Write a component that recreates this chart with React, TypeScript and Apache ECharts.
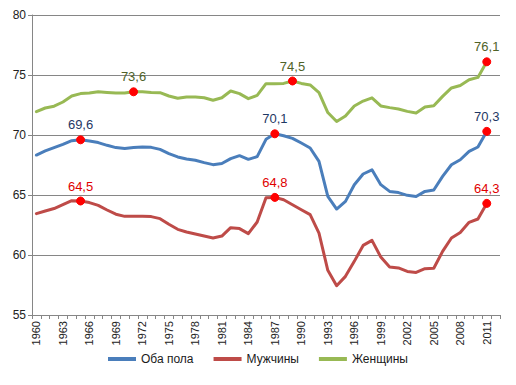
import React, { useEffect, useRef } from "react";
import * as echarts from "echarts";

const years = [
  "1960","1961","1962","1963","1964","1965","1966","1967","1968","1969",
  "1970","1971","1972","1973","1974","1975","1976","1977","1978","1979",
  "1980","1981","1982","1983","1984","1985","1986","1987","1988","1989",
  "1990","1991","1992","1993","1994","1995","1996","1997","1998","1999",
  "2000","2001","2002","2003","2004","2005","2006","2007","2008","2009",
  "2010","2011","2012",
];

const both = [
  68.33, 68.67, 68.95, 69.22, 69.53, 69.6, 69.5, 69.37, 69.14, 68.95,
  68.87, 68.95, 69.0, 68.97, 68.8, 68.45, 68.17, 68.0, 67.89, 67.7,
  67.53, 67.62, 68.03, 68.28, 67.97, 68.2, 69.64, 70.1, 69.94, 69.72,
  69.33, 68.92, 67.8, 64.88, 63.83, 64.47, 65.86, 66.75, 67.1, 65.86,
  65.3, 65.2, 64.97, 64.88, 65.3, 65.42, 66.55, 67.52, 67.94, 68.63,
  69.0, 70.3,
];

const men = [
  63.45, 63.67, 63.87, 64.2, 64.53, 64.5, 64.37, 64.14, 63.75, 63.4,
  63.22, 63.22, 63.22, 63.2, 63.03, 62.56, 62.14, 61.92, 61.75, 61.58,
  61.42, 61.58, 62.28, 62.2, 61.78, 62.75, 64.78, 64.8, 64.6, 64.19,
  63.77, 63.36, 61.83, 58.72, 57.44, 58.22, 59.47, 60.8, 61.22, 59.83,
  59.0, 58.92, 58.63, 58.55, 58.86, 58.9, 60.3, 61.42, 61.88, 62.72,
  63.0, 64.3,
];

const women = [
  71.95, 72.25, 72.4, 72.75, 73.25, 73.45, 73.5, 73.6, 73.55, 73.5,
  73.5, 73.6, 73.6, 73.55, 73.53, 73.25, 73.06, 73.17, 73.17, 73.1,
  72.9, 73.1, 73.67, 73.45, 73.03, 73.3, 74.28, 74.28, 74.3, 74.5,
  74.3, 74.17, 73.53, 71.87, 71.12, 71.58, 72.42, 72.83, 73.1, 72.42,
  72.28, 72.17, 71.97, 71.83, 72.33, 72.44, 73.22, 73.92, 74.13, 74.6,
  74.8, 76.1,
];

const markedBoth = ["1965", "1987", "2011"];
const markedMen = ["1965", "1987", "2011"];
const markedWomen = ["1971", "1989", "2011"];

const yTicks = { min: 55, max: 80, interval: 5 };

function buildData(values: number[], marked: string[], labelColor: string) {
  return values.map((v, i) => {
    if (!marked.includes(years[i])) return v;
    const last = i === values.length - 1;
    return {
      value: v,
      symbol: "circle",
      symbolSize: 8,
      itemStyle: { color: "#FF0000", borderColor: "#FF0000" },
      label: {
        show: true,
        position: "top",
        distance: 4,
        offset: last ? [5, 0] : [0, 0],
        color: labelColor,
        fontSize: 13,
        fontFamily: "Liberation Sans",
        formatter: (p: any) => String(p.value).replace(".", ","),
      },
    };
  });
}

export default function App() {
  const ref = useRef<HTMLDivElement>(null);
  useEffect(() => {
    if (!ref.current) return;
    const chart = echarts.init(ref.current, undefined, { renderer: "svg" });
    const lineSeries = (name: string, values: number[], marked: string[], color: string, labelColor: string) => ({
      name,
      type: "line",
      data: buildData(values, marked, labelColor),
      symbol: "none",
      showSymbol: true,
      showAllSymbol: true,
      smooth: false,
      lineStyle: { color, width: 3, cap: "round", join: "round" },
      itemStyle: { color },
      labelLayout: { hideOverlap: false },
      z: 2,
    });
    chart.setOption({
      animation: false,
      backgroundColor: "#ffffff",
      textStyle: { fontFamily: "Liberation Sans" },
      grid: { left: 32, right: 16, top: 15, bottom: 70, containLabel: false },
      legend: {
        bottom: 15,
        left: "center",
        icon: "rect",
        itemWidth: 28,
        itemHeight: 4,
        itemGap: 20,
        textStyle: { fontSize: 12, color: "#1a1a1a", fontFamily: "Liberation Sans" },
        data: [
          { name: "Оба пола", itemStyle: { color: "#4A7EBB" } },
          { name: "Мужчины", itemStyle: { color: "#BE4B48" } },
          { name: "Женщины", itemStyle: { color: "#98B954" } },
        ],
      },
      xAxis: {
        type: "category",
        data: years,
        boundaryGap: true,
        axisLine: { show: true, lineStyle: { color: "#868686", width: 1 } },
        axisTick: { show: true, interval: 0, length: 4, lineStyle: { color: "#868686" } },
        axisLabel: {
          interval: 2,
          rotate: 90,
          fontSize: 11,
          color: "#222",
          margin: 6,
          fontFamily: "Liberation Sans",
        },
        splitLine: { show: false },
      },
      yAxis: {
        type: "value",
        min: yTicks.min,
        max: yTicks.max,
        interval: yTicks.interval,
        axisLine: { show: true, lineStyle: { color: "#868686", width: 1 } },
        axisTick: { show: true, length: 4, lineStyle: { color: "#868686" } },
        axisLabel: { fontSize: 12, color: "#222", margin: 6, fontFamily: "Liberation Sans" },
        splitLine: { show: true, lineStyle: { color: "#868686", width: 1 } },
      },
      series: [
        lineSeries("Оба пола", both, markedBoth, "#4A7EBB", "#1F3864"),
        lineSeries("Мужчины", men, markedMen, "#BE4B48", "#E00000"),
        lineSeries("Женщины", women, markedWomen, "#98B954", "#4F6228"),
      ],
    });
    return () => chart.dispose();
  }, []);
  return (
    <div
      ref={ref}
      style={{ position: "absolute", left: 0, top: 0, width: 516, height: 385 }}
    />
  );
}
